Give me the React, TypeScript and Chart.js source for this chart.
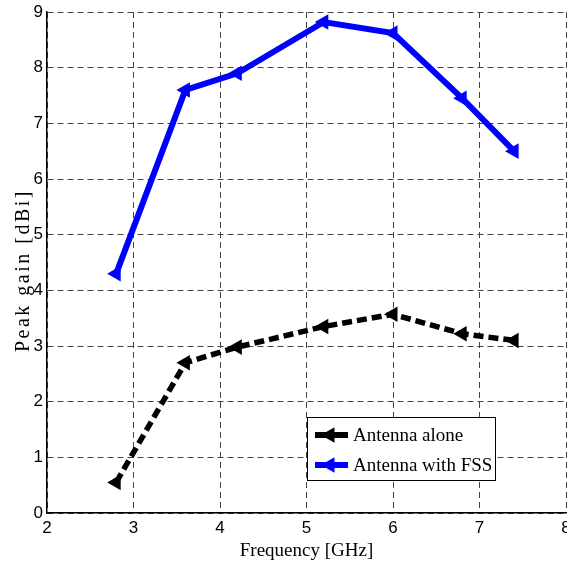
import React, { useEffect, useRef } from 'react';
import { Chart, registerables } from 'chart.js';

Chart.register(...registerables);

const frequencies = [2.8, 3.6, 4.2, 5.2, 6.0, 6.8, 7.4];
const antennaAlone = [0.55, 2.7, 2.98, 3.35, 3.57, 3.22, 3.1];
const antennaWithFSS = [4.3, 7.6, 7.9, 8.82, 8.62, 7.45, 6.5];
const seriesLabels = ['Antenna alone', 'Antenna with FSS'];
const seriesColors = ['#000000', '#0000ff'];
const xRange = [2, 8];
const yRange = [0, 9];
const xTitle = 'Frequency [GHz]';
const yTitle = 'Peak gain [dBi]';

const CANVAS_W = 590;
const VIEW_W = 567;
const VIEW_H = 569;

function drawLeftTriangle(ctx: CanvasRenderingContext2D, x: number, y: number, r: number, color: string) {
  ctx.beginPath();
  for (let i = 0; i < 3; i++) {
    const a = -Math.PI / 2 + (i * 2 * Math.PI) / 3;
    const px = x + Math.sin(a) * r;
    const py = y - Math.cos(a) * r;
    if (i === 0) ctx.moveTo(px, py);
    else ctx.lineTo(px, py);
  }
  ctx.closePath();
  ctx.fillStyle = color;
  ctx.fill();
}

const overlayPlugin = {
  id: 'overlay',
  afterDraw(chart: any) {
    const { ctx, chartArea: ca } = chart;
    ctx.save();
    ctx.fillStyle = '#000';
    ctx.font = '19px "Liberation Serif"';
    ctx.textAlign = 'center';
    ctx.textBaseline = 'middle';
    ctx.fillText(xTitle, (ca.left + ca.right) / 2, ca.bottom + 38);
    ctx.save();
    ctx.translate(ca.left - 23, (ca.top + ca.bottom) / 2 + 8);
    ctx.rotate(-Math.PI / 2);
    ctx.font = '20px "Liberation Serif"';
    (ctx as any).letterSpacing = '2.5px';
    ctx.fillText(yTitle, 0, 0);
    ctx.restore();

    // legend
    const lx = ca.left + 260;
    const ly = ca.top + 405;
    const lw = 188;
    const lh = 63;
    ctx.fillStyle = '#fff';
    ctx.fillRect(lx, ly, lw, lh);
    ctx.strokeStyle = '#000';
    ctx.lineWidth = 1;
    ctx.setLineDash([]);
    ctx.strokeRect(lx + 0.5, ly + 0.5, lw, lh);
    ctx.font = '19px "Liberation Serif"';
    ctx.textAlign = 'left';
    ctx.textBaseline = 'middle';
    seriesLabels.forEach((label, i) => {
      const cy = ly + 18 + i * 30;
      ctx.strokeStyle = seriesColors[i];
      ctx.lineWidth = 6;
      ctx.beginPath();
      ctx.moveTo(lx + 8, cy);
      ctx.lineTo(lx + 41, cy);
      ctx.stroke();
      drawLeftTriangle(ctx, lx + 23, cy, 9, seriesColors[i]);
      ctx.fillStyle = '#000';
      ctx.fillText(label, lx + 46, cy + 1);
    });
    ctx.restore();
  },
};

export default function App() {
  const ref = useRef<HTMLCanvasElement>(null);
  useEffect(() => {
    if (!ref.current) return;
    const chart = new Chart(ref.current, {
      type: 'line',
      data: {
        datasets: [
          {
            label: seriesLabels[0],
            data: frequencies.map((f, i) => ({ x: f, y: antennaAlone[i] })),
            borderColor: seriesColors[0],
            backgroundColor: seriesColors[0],
            borderWidth: 5.5,
            borderDash: [10, 5],
            pointStyle: 'triangle',
            pointRotation: -90,
            pointRadius: 9,
            pointBorderWidth: 0,
            tension: 0,
          },
          {
            label: seriesLabels[1],
            data: frequencies.map((f, i) => ({ x: f, y: antennaWithFSS[i] })),
            borderColor: seriesColors[1],
            backgroundColor: seriesColors[1],
            borderWidth: 6,
            pointStyle: 'triangle',
            pointRotation: -90,
            pointRadius: 9,
            pointBorderWidth: 0,
            tension: 0,
          },
        ],
      },
      options: {
        animation: false,
        responsive: false,
        layout: { padding: { top: 12, right: CANVAS_W - 566, left: 0, bottom: 0 } },
        plugins: { legend: { display: false }, tooltip: { enabled: false } },
        scales: {
          x: {
            type: 'linear',
            min: xRange[0],
            max: xRange[1],
            ticks: { stepSize: 1, color: '#000', font: { family: 'Liberation Sans', size: 17 }, padding: 5, maxRotation: 0 },
            grid: { color: '#444', lineWidth: 1, drawTicks: false },
            border: { display: true, color: '#000', width: 1.5, dash: [6, 4] },
            afterFit: (s: any) => {
              s.height = 56;
              s.paddingLeft = 0;
              s.paddingRight = 0;
            },
          },
          y: {
            min: yRange[0],
            max: yRange[1],
            ticks: { stepSize: 1, color: '#000', font: { family: 'Liberation Sans', size: 17 }, padding: 4 },
            grid: { color: '#444', lineWidth: 1, drawTicks: false },
            border: { display: true, color: '#000', width: 1.5, dash: [6, 4] },
            afterFit: (s: any) => {
              s.width = 47;
              s.paddingTop = 0;
              s.paddingBottom = 0;
            },
          },
        },
      },
      plugins: [overlayPlugin],
    });
    return () => chart.destroy();
  }, []);
  return (
    <div style={{ position: 'fixed', left: 0, top: 0, width: VIEW_W, height: VIEW_H, overflow: 'hidden', background: '#fff' }}>
      <canvas ref={ref} width={CANVAS_W} height={VIEW_H} style={{ display: 'block' }} />
    </div>
  );
}
